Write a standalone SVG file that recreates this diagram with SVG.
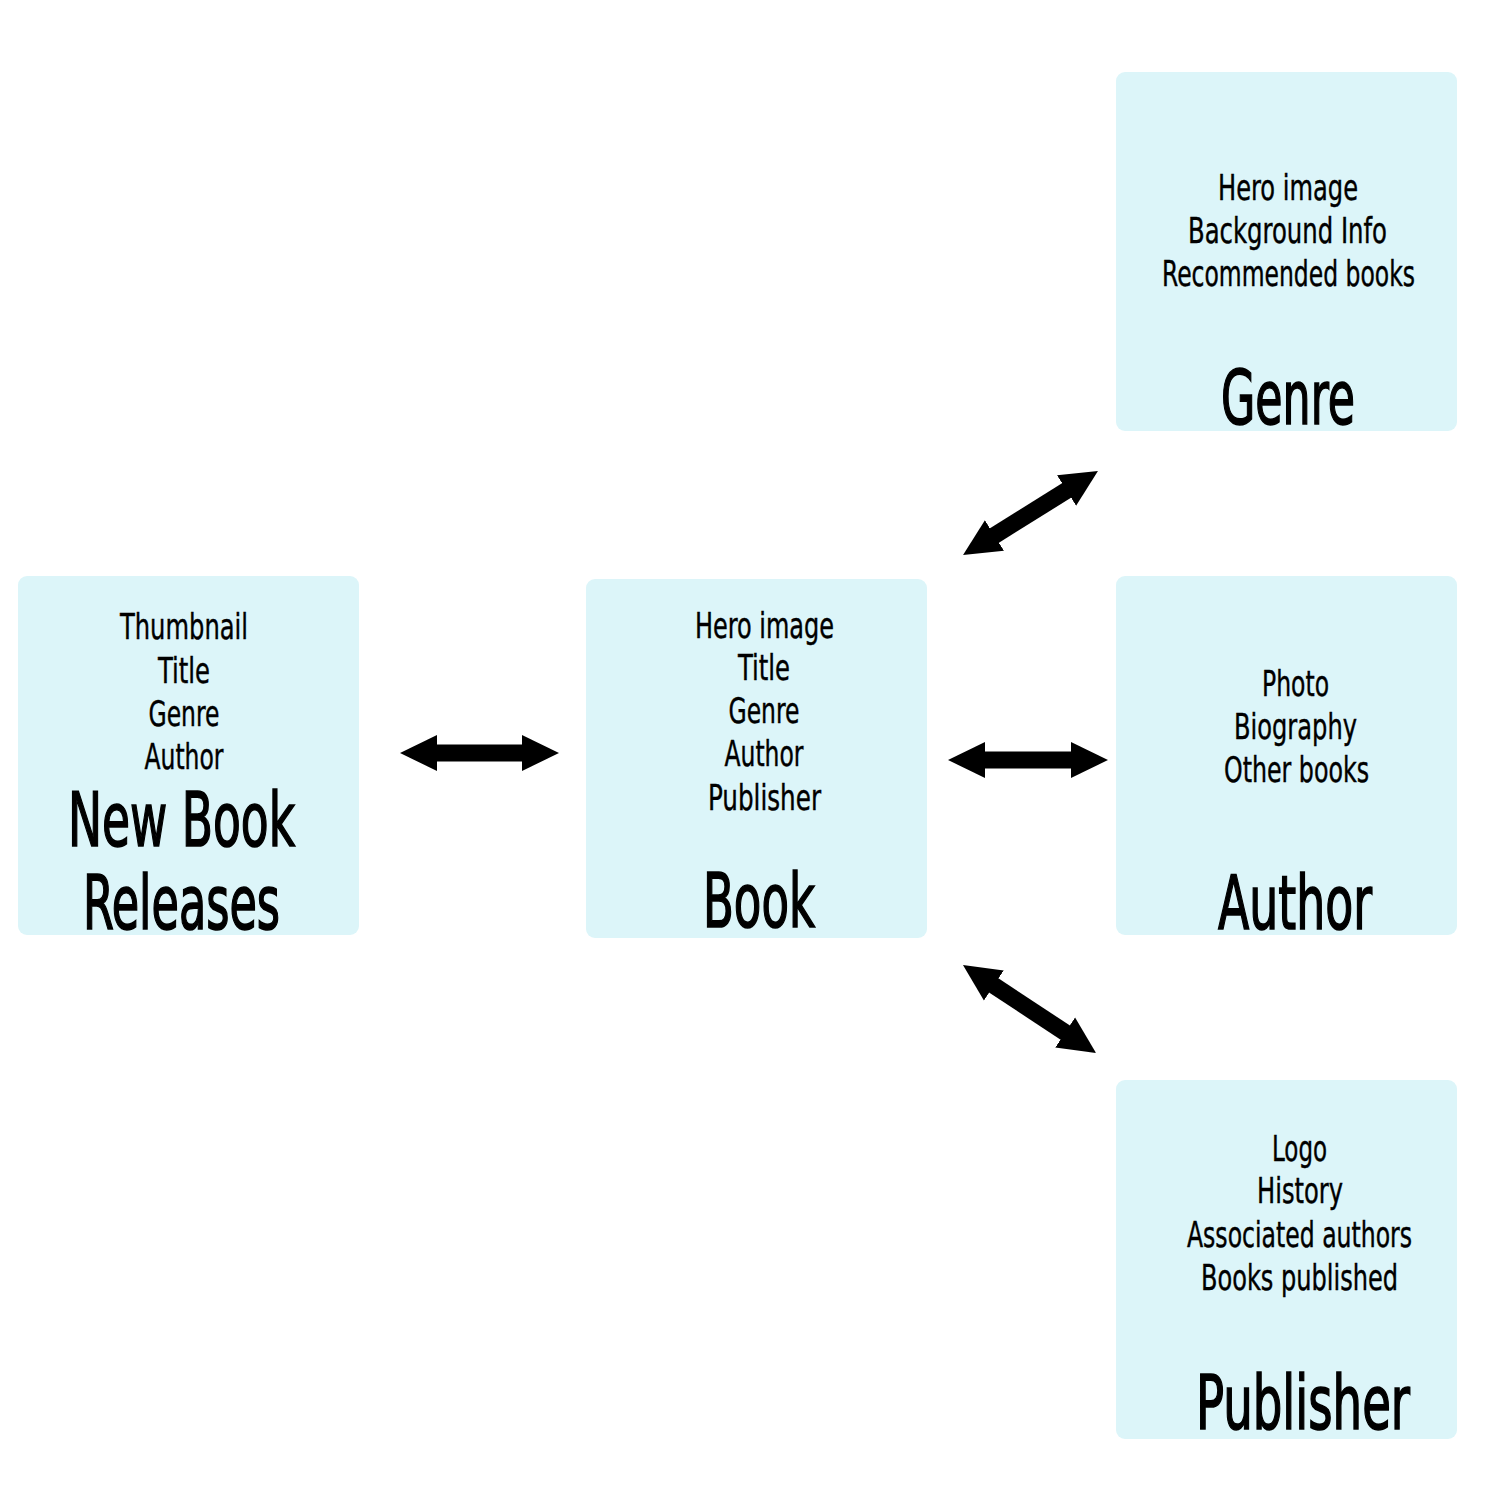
<svg xmlns="http://www.w3.org/2000/svg" width="1500" height="1500" viewBox="0 0 1500 1500">
<style>
.box{fill:#dcf5f9;}
text{font-family:"Liberation Sans Narrow","DejaVu Sans Condensed","Liberation Sans",sans-serif;fill:#000;text-anchor:middle;}
.s{font-size:35px;stroke:#000;stroke-width:0.4px;}
.b{font-size:75px;stroke:#000;stroke-width:1.6px;}
.conn{stroke:#000;stroke-width:17;fill:none;marker-start:url(#ah);marker-end:url(#ah);}
</style>
<defs>
<marker id="ah" markerUnits="userSpaceOnUse" markerWidth="38" markerHeight="38" refX="7" refY="18" orient="auto-start-reverse" viewBox="0 0 38 36">
<path d="M0,0 L37,18 L0,36 z" fill="#000"/>
</marker>
</defs>
<rect width="1500" height="1500" fill="#fff"/>
<g id="new-book-releases">
<rect class="box" x="18" y="576" width="341" height="359" rx="9"/>
<text class="s" x="184" y="639" textLength="128" lengthAdjust="spacingAndGlyphs">Thumbnail</text>
<text class="s" x="184" y="683" textLength="52" lengthAdjust="spacingAndGlyphs">Title</text>
<text class="s" x="184" y="726" textLength="71" lengthAdjust="spacingAndGlyphs">Genre</text>
<text class="s" x="184" y="769" textLength="79" lengthAdjust="spacingAndGlyphs">Author</text>
<text class="b" x="181.5" y="846" textLength="227" lengthAdjust="spacingAndGlyphs">New Book</text>
<text class="b" x="181.5" y="929" textLength="197" lengthAdjust="spacingAndGlyphs">Releases</text>
</g>
<g id="book">
<rect class="box" x="586" y="579" width="341" height="359" rx="9"/>
<text class="s" x="764.5" y="638" textLength="139" lengthAdjust="spacingAndGlyphs">Hero image</text>
<text class="s" x="764" y="680" textLength="52" lengthAdjust="spacingAndGlyphs">Title</text>
<text class="s" x="764" y="723" textLength="71" lengthAdjust="spacingAndGlyphs">Genre</text>
<text class="s" x="764" y="766" textLength="79" lengthAdjust="spacingAndGlyphs">Author</text>
<text class="s" x="764.5" y="810" textLength="113" lengthAdjust="spacingAndGlyphs">Publisher</text>
<text class="b" x="759" y="927" textLength="112" lengthAdjust="spacingAndGlyphs">Book</text>
</g>
<g id="genre">
<rect class="box" x="1116" y="72" width="341" height="359" rx="9"/>
<text class="s" x="1288" y="200" textLength="140" lengthAdjust="spacingAndGlyphs">Hero image</text>
<text class="s" x="1287.5" y="243" textLength="199" lengthAdjust="spacingAndGlyphs">Background Info</text>
<text class="s" x="1288.5" y="286" textLength="253" lengthAdjust="spacingAndGlyphs">Recommended books</text>
<text class="b" x="1288" y="424" textLength="134" lengthAdjust="spacingAndGlyphs">Genre</text>
</g>
<g id="author">
<rect class="box" x="1116" y="576" width="341" height="359" rx="9"/>
<text class="s" x="1295.5" y="696" textLength="67" lengthAdjust="spacingAndGlyphs">Photo</text>
<text class="s" x="1295.5" y="739" textLength="123" lengthAdjust="spacingAndGlyphs">Biography</text>
<text class="s" x="1296.5" y="782" textLength="145" lengthAdjust="spacingAndGlyphs">Other books</text>
<text class="b" x="1295" y="929" textLength="154" lengthAdjust="spacingAndGlyphs">Author</text>
</g>
<g id="publisher">
<rect class="box" x="1116" y="1080" width="341" height="359" rx="9"/>
<text class="s" x="1299.5" y="1161" textLength="55" lengthAdjust="spacingAndGlyphs">Logo</text>
<text class="s" x="1300" y="1203" textLength="86" lengthAdjust="spacingAndGlyphs">History</text>
<text class="s" x="1299.5" y="1247" textLength="225" lengthAdjust="spacingAndGlyphs">Associated authors</text>
<text class="s" x="1299.5" y="1290" textLength="197" lengthAdjust="spacingAndGlyphs">Books published</text>
<text class="b" x="1303" y="1429" textLength="214" lengthAdjust="spacingAndGlyphs">Publisher</text>
</g>
<g id="connectors">
<line class="conn" x1="430" y1="753" x2="529" y2="753"/>
<line class="conn" x1="978" y1="760" x2="1078" y2="760"/>
<line class="conn" x1="988.5" y1="539.2" x2="1072.5" y2="486.8"/>
<line class="conn" x1="988" y1="981.6" x2="1071" y2="1036.4"/>
</g>
</svg>
